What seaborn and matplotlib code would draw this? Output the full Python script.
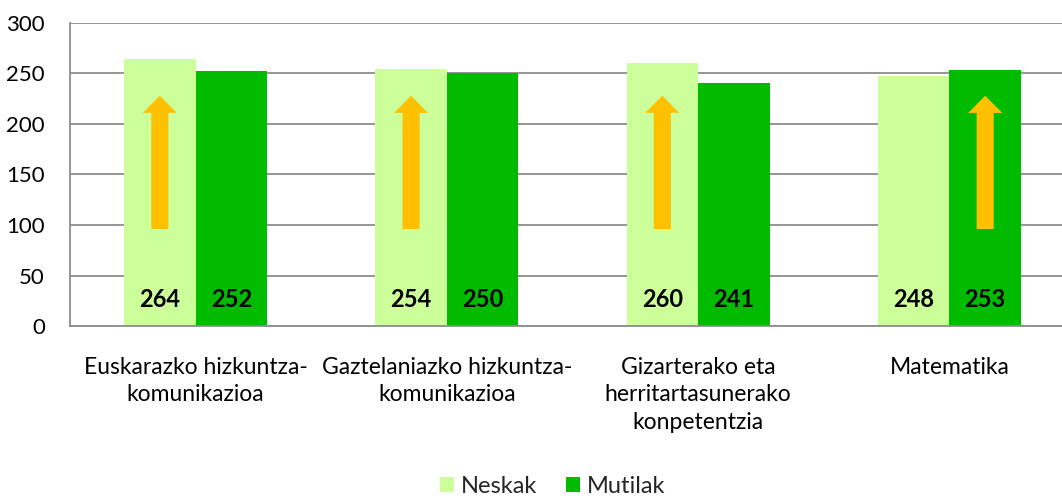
import matplotlib.pyplot as plt
import seaborn as sns
import pandas as pd

categories = ['Euskarazko hizkuntza-\nkomunikazioa',
              'Gaztelaniazko hizkuntza-\nkomunikazioa',
              'Gizarterako eta\nherritartasunerako\nkonpetentzia',
              'Matematika']
groups = ['Neskak', 'Mutilak']
neskak = [264, 254, 260, 248]
mutilak = [252, 250, 241, 253]
# which series carries the upward arrow in each category
arrow_series = ['Neskak', 'Neskak', 'Neskak', 'Mutilak']

colors = ['#CCFF99', '#00BB00']
arrow_color = '#FFC000'

df = pd.DataFrame({
    'category': categories * 2,
    'group': [groups[0]] * 4 + [groups[1]] * 4,
    'value': neskak + mutilak,
})

sns.set_theme(style='white')
plt.rcParams['font.family'] = ['Lato', 'DejaVu Sans']

fig = plt.figure(figsize=(10.62, 4.99), dpi=100)
ax = fig.add_axes([70 / 1062, 1 - 326 / 499, 1005 / 1062, 303 / 499])

sns.barplot(data=df, x='category', y='value', hue='group', palette=colors,
            saturation=1, width=0.57, linewidth=0, ax=ax, legend=True)

ax.set_xlim(-0.5, 3.5)
ax.set_ylim(0, 300)
ax.set_yticks(range(0, 301, 50))
ax.yaxis.grid(True, color='#8C8C8C', linewidth=1.3)
ax.set_axisbelow(True)
ax.set_xlabel('')
ax.set_ylabel('')
for side in ['top', 'right']:
    ax.spines[side].set_visible(False)
for side in ['left', 'bottom']:
    ax.spines[side].set_color('#8C8C8C')
    ax.spines[side].set_linewidth(1.3)

ax.tick_params(axis='y', labelsize=16, length=0, pad=18, colors='black')
ax.tick_params(axis='x', labelsize=16.5, length=0, pad=22, colors='black')
for lbl in ax.get_xticklabels():
    lbl.set_linespacing(1.4)

# value labels and arrows
bars = ax.patches[:8]
for i, bar in enumerate(bars):
    x = bar.get_x() + bar.get_width() / 2
    ax.text(x, 26, f'{int(bar.get_height())}', ha='center', va='center',
            fontsize=17, fontweight='bold', color='black')

for ci, series in enumerate(arrow_series):
    bar = bars[groups.index(series) * 4 + ci]
    x = bar.get_x() + bar.get_width() / 2
    ax.arrow(x, 96, 0, 132, width=0.068, head_width=0.135, head_length=17,
             length_includes_head=True, color=arrow_color, linewidth=0)

handles, labels = ax.get_legend_handles_labels()
ax.legend(handles[:2], labels[:2], loc='center', bbox_to_anchor=(0.48, -0.53),
          ncol=2, frameon=False, fontsize=17, handlelength=0.6, handleheight=0.6,
          handletextpad=0.3, columnspacing=1.2, borderaxespad=0, borderpad=0)

fig.savefig('out.png', dpi=100)
